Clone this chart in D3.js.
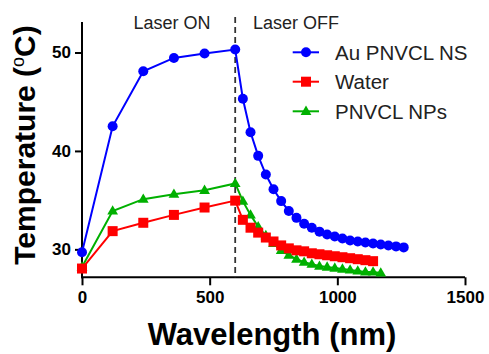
<!DOCTYPE html>
<html>
<head>
<meta charset="utf-8">
<script src="https://cdn.jsdelivr.net/npm/d3@7"></script>
<style>
  html, body { margin: 0; padding: 0; background: #fff; }
  svg { display: block; }
</style>
</head>
<body>
<svg id="chart" width="489" height="354"></svg>
<script>
// ---- Data ----
const seriesNames = ["Au PNVCL NS", "Water", "PNVCL NPs"];
const timeAu = [0, 120, 240, 360, 480, 600, 630, 660, 690, 720, 750, 780, 810, 840, 870, 900, 930, 960, 990, 1020, 1050, 1080, 1110, 1140, 1170, 1200, 1230, 1260];
const tempAu = [29.7, 42.5, 48.1, 49.45, 49.9, 50.3, 45.3, 41.9, 39.5, 37.6, 36.1, 34.9, 33.9, 33.2, 32.6, 32.2, 31.8, 31.5, 31.3, 31.1, 30.9, 30.8, 30.7, 30.6, 30.5, 30.4, 30.3, 30.2];
const timeWater = [0, 120, 240, 360, 480, 600, 630, 660, 690, 720, 750, 780, 810, 840, 870, 900, 930, 960, 990, 1020, 1050, 1080, 1110, 1140];
const tempWater = [28.05, 31.85, 32.7, 33.5, 34.25, 34.95, 33.0, 32.2, 31.7, 31.2, 30.8, 30.4, 30.1, 29.9, 29.8, 29.6, 29.5, 29.4, 29.3, 29.2, 29.1, 29.0, 28.9, 28.8];
const timeNP = [0, 120, 240, 360, 480, 600, 630, 660, 690, 720, 750, 780, 810, 840, 870, 900, 930, 960, 990, 1020, 1050, 1080, 1110, 1140, 1170];
const tempNP = [28.2, 33.9, 35.1, 35.6, 36.0, 36.7, 34.9, 33.5, 32.3, 31.4, 30.6, 29.9, 29.4, 29.0, 28.7, 28.5, 28.3, 28.2, 28.1, 28.0, 27.9, 27.8, 27.7, 27.7, 27.6];
const xTicks = [0, 500, 1000, 1500];
const yTicks = [30, 40, 50];
const laserSwitch = 600;
const annotations = ["Laser ON", "Laser OFF"];
const xTitle = "Wavelength (nm)";

// ---- Layout ----
const svg = d3.select("#chart");
const x = d3.scaleLinear().domain([0, 1500]).range([82, 465]);
const y = d3.scaleLinear().domain([27.16, 53.1]).range([277.3, 22]);

const colors = { au: "#0000ff", water: "#ff0000", np: "#00b000" };

// Axes
const xAxis = d3.axisBottom(x).tickValues(xTicks).tickSize(8).tickPadding(4).tickFormat(d3.format("d"));
const gx = svg.append("g").attr("transform", `translate(0,${y.range()[0]})`).call(xAxis);
gx.select(".domain").attr("stroke", "#000").attr("stroke-width", 2).attr("d", `M${x.range()[0]-1},0H${x.range()[1]}`);
gx.selectAll(".tick line").attr("stroke", "#000").attr("stroke-width", 2);
gx.selectAll(".tick text").attr("font-family", "Liberation Sans, Arial, sans-serif")
  .attr("font-weight", "bold").attr("font-size", 17).attr("fill", "#000").attr("dy", "0.82em");

const yAxis = d3.axisLeft(y).tickValues(yTicks).tickSize(7).tickPadding(4).tickFormat(d3.format("d"));
const gy = svg.append("g").attr("transform", `translate(${x.range()[0]},0)`).call(yAxis);
gy.select(".domain").attr("stroke", "#000").attr("stroke-width", 2).attr("d", `M0,${y.range()[1]}V${y.range()[0]+1}`);
gy.selectAll(".tick line").attr("stroke", "#000").attr("stroke-width", 2);
gy.selectAll(".tick text").attr("font-family", "Liberation Sans, Arial, sans-serif")
  .attr("font-weight", "bold").attr("font-size", 17).attr("fill", "#000");

// Dashed laser switch line
svg.append("line")
  .attr("x1", x(laserSwitch)).attr("x2", x(laserSwitch))
  .attr("y1", 17).attr("y2", y.range()[0])
  .attr("stroke", "#333").attr("stroke-width", 1.8).attr("stroke-dasharray", "6,4");

// Annotations
svg.append("text").attr("x", 172).attr("y", 29).attr("text-anchor", "middle")
  .attr("font-family", "Liberation Sans, Arial, sans-serif").attr("font-size", 18).attr("fill", "#222")
  .text(annotations[0]);
svg.append("text").attr("x", 253).attr("y", 29)
  .attr("font-family", "Liberation Sans, Arial, sans-serif").attr("font-size", 18).attr("fill", "#222")
  .text(annotations[1]);

// Markers
function drawMarker(g, type, cx, cy, color) {
  if (type === "circle") {
    g.append("circle").attr("cx", cx).attr("cy", cy).attr("r", 5).attr("fill", color);
  } else if (type === "square") {
    g.append("rect").attr("x", cx - 5).attr("y", cy - 5).attr("width", 10).attr("height", 10).attr("fill", color);
  } else {
    const s = d3.symbol().type(d3.symbolTriangle).size(50);
    g.append("path").attr("d", s()).attr("transform", `translate(${cx},${cy + 0.5})`).attr("fill", color);
  }
}

const series = [
  { name: seriesNames[2], t: timeNP, v: tempNP, color: colors.np, marker: "triangle" },
  { name: seriesNames[1], t: timeWater, v: tempWater, color: colors.water, marker: "square" },
  { name: seriesNames[0], t: timeAu, v: tempAu, color: colors.au, marker: "circle" }
];

const line = d3.line().x(d => x(d[0])).y(d => y(d[1]));
series.forEach(s => {
  const pts = s.t.map((t, i) => [t, s.v[i]]);
  const g = svg.append("g");
  g.append("path").attr("d", line(pts)).attr("fill", "none").attr("stroke", s.color).attr("stroke-width", 2);
  pts.forEach(p => drawMarker(g, s.marker, x(p[0]), y(p[1]), s.color));
});

// Legend
const legendOrder = [series[2], series[1], series[0]];
const legendRows = [52.3, 81.7, 111.3];
legendOrder.forEach((s, i) => {
  const g = svg.append("g");
  const ly = legendRows[i];
  g.append("line").attr("x1", 292.7).attr("x2", 319).attr("y1", ly).attr("y2", ly)
    .attr("stroke", s.color).attr("stroke-width", 2);
  drawMarker(g, s.marker, 306, ly, s.color);
  g.append("text").attr("x", 335).attr("y", ly + 7.3)
    .attr("font-family", "Liberation Sans, Arial, sans-serif").attr("font-size", 20.5).attr("fill", "#222")
    .text(s.name);
});

// Axis titles
svg.append("text").attr("x", 272).attr("y", 345).attr("text-anchor", "middle")
  .attr("font-family", "Liberation Sans, Arial, sans-serif").attr("font-weight", "bold").attr("font-size", 31)
  .attr("fill", "#000").text(xTitle);

const yt = svg.append("text").attr("transform", "translate(35,145) rotate(-90)").attr("text-anchor", "middle")
  .attr("font-family", "Liberation Sans, Arial, sans-serif").attr("font-weight", "bold").attr("font-size", 30)
  .attr("fill", "#000");
yt.append("tspan").text("Temperature (");
yt.append("tspan").attr("font-size", 18).attr("font-weight", "normal").attr("dy", -11).text("o");
yt.append("tspan").attr("dy", 11).text("C)");
</script>
</body>
</html>
